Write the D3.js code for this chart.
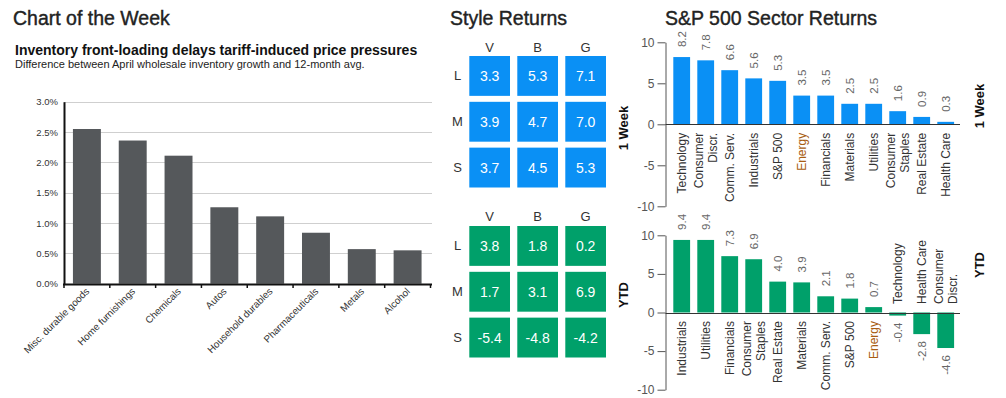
<!DOCTYPE html>
<html><head><meta charset="utf-8">
<script src="https://cdn.jsdelivr.net/npm/d3@7"></script>
<style>
body{margin:0;background:#fff;}
svg text{font-family:"Liberation Sans",Arial,sans-serif;}
</style>
</head><body>
<svg id="c" width="1006" height="398"></svg>
<script>
// ---------- data ----------
const invCategories = ["Misc. durable goods","Home furnishings","Chemicals","Autos","Household durables","Pharmaceuticals","Metals","Alcohol"];
const invValues = [0.0255,0.0236,0.0211,0.0126,0.0111,0.0084,0.0057,0.0055];
const invTicks = [0,0.005,0.01,0.015,0.02,0.025,0.03];

const styleCols = ["V","B","G"];
const styleRows = ["L","M","S"];
const style1W = [[3.3,5.3,7.1],[3.9,4.7,7.0],[3.7,4.5,5.3]];
const styleYTD = [[3.8,1.8,0.2],[1.7,3.1,6.9],[-5.4,-4.8,-4.2]];

const sec1WNames = ["Technology","Consumer\nDiscr.","Comm. Serv.","Industrials","S&P 500","Energy","Financials","Materials","Utilities","Consumer\nStaples","Real Estate","Health Care"];
const sec1WValues = [8.2,7.8,6.6,5.6,5.3,3.5,3.5,2.5,2.5,1.6,0.9,0.3];
const secYTDNames = ["Industrials","Utilities","Financials","Consumer\nStaples","Real Estate","Materials","Comm. Serv.","S&P 500","Energy","Technology","Health Care","Consumer\nDiscr."];
const secYTDValues = [9.4,9.4,7.3,6.9,4.0,3.9,2.1,1.8,0.7,-0.4,-2.8,-4.6];
const secTicks = [-10,-5,0,5,10];

// ---------- drawing ----------
const svg = d3.select("#c");
const FONT = '"Liberation Sans",Arial,sans-serif';

// Titles
[["Chart of the Week",13],["Style Returns",450],["S&P 500 Sector Returns",665]].forEach(([t,x])=>{
  svg.append("text").attr("x",x).attr("y",25).attr("font-size","19.5px").attr("fill","#222")
    .attr("stroke","#222").attr("stroke-width",0.4).text(t);
});

svg.append("text").attr("x",15).attr("y",55).attr("font-size","14px").attr("font-weight","bold").attr("fill","#111")
  .text("Inventory front-loading delays tariff-induced price pressures");
svg.append("text").attr("x",15).attr("y",68).attr("font-size","11px").attr("fill","#222")
  .text("Difference between April wholesale inventory growth and 12-month avg.");

// ---------- Left bar chart ----------
(function(){
  const x = d3.scaleBand().domain(invCategories).range([64,430.5]).paddingInner(0.39).paddingOuter(0.195);
  const y = d3.scaleLinear().domain([0,0.03]).range([283.7,101.7]);
  const g = svg.append("g");
  g.selectAll("line.grid").data(invTicks.filter(d=>d>0)).join("line")
    .attr("x1",64).attr("x2",432).attr("y1",d=>Math.round(y(d))+0.5).attr("y2",d=>Math.round(y(d))+0.5)
    .attr("stroke","#cfcfcf").attr("stroke-width",1);
  g.selectAll("rect").data(invValues).join("rect")
    .attr("x",(d,i)=>x(invCategories[i])).attr("width",x.bandwidth())
    .attr("y",d=>y(d)).attr("height",d=>y(0)-y(d)).attr("fill","#55585b");
  const ya = g.append("g").attr("transform","translate(64,0)")
    .call(d3.axisLeft(y).tickValues(invTicks).tickFormat(d3.format(".1%")).tickSize(0).tickPadding(6));
  ya.select(".domain").attr("stroke","#111").attr("stroke-width",2);
  ya.selectAll("text").attr("font-size","9.5px").attr("fill","#333").attr("font-family",FONT);
  g.append("line").attr("x1",63).attr("x2",432).attr("y1",284.5).attr("y2",284.5).attr("stroke","#111").attr("stroke-width",2);
  const step = x.step();
  g.selectAll("line.bt").data(d3.range(invCategories.length+1)).join("line")
    .attr("x1",i=>64+i*step).attr("x2",i=>64+i*step).attr("y1",284).attr("y2",288)
    .attr("stroke","#111").attr("stroke-width",1.5);
  g.selectAll("text.xl").data(invCategories).join("text")
    .attr("transform",d=>`translate(${x(d)+x.bandwidth()/2+3},${292}) rotate(-45)`)
    .attr("text-anchor","end").attr("font-size","9.8px").attr("fill","#333").text(d=>d);
})();

// ---------- Style grids ----------
function styleGrid(data, top, bottom, color, headerY, label, labelY){
  const x = d3.scaleBand().domain(styleCols).range([469.3,606]).paddingInner(0.152);
  const y = d3.scaleBand().domain(styleRows).range([top,bottom]).paddingInner(0.13);
  const g = svg.append("g");
  g.selectAll("text.h").data(styleCols).join("text")
    .attr("x",d=>x(d)+x.bandwidth()/2).attr("y",headerY).attr("dy","0.35em")
    .attr("text-anchor","middle").attr("font-size","13px").attr("fill","#333").text(d=>d);
  g.selectAll("text.r").data(styleRows).join("text")
    .attr("x",457.5).attr("y",d=>y(d)+y.bandwidth()/2).attr("dy","0.35em")
    .attr("text-anchor","middle").attr("font-size","13px").attr("fill","#333").text(d=>d);
  const cells = [];
  styleRows.forEach((r,i)=>styleCols.forEach((c,j)=>cells.push({r,c,v:data[i][j]})));
  g.selectAll("rect").data(cells).join("rect")
    .attr("x",d=>x(d.c)).attr("y",d=>y(d.r)).attr("width",x.bandwidth()).attr("height",y.bandwidth()).attr("fill",color);
  g.selectAll("text.v").data(cells).join("text")
    .attr("x",d=>x(d.c)+x.bandwidth()/2).attr("y",d=>y(d.r)+y.bandwidth()/2).attr("dy","0.36em")
    .attr("text-anchor","middle").attr("font-size","14px").attr("fill","#fff").text(d=>d.v.toFixed(1));
  g.append("text").attr("transform",`translate(628,${labelY}) rotate(-90)`).attr("text-anchor","middle")
    .attr("font-size","13px").attr("font-weight","bold").attr("fill","#111").text(label);
}
styleGrid(style1W, 56, 187.5, "#0a90f5", 47.5, "1 Week", 128);
styleGrid(styleYTD, 226, 357.5, "#00a06a", 216.5, "YTD", 295);

// ---------- Sector charts ----------
function sectorChart(names, values, y0, y1, color, label, labelY){
  const x = d3.scaleBand().domain(names).range([669.7,957.7]).paddingInner(0.3).paddingOuter(0.15);
  const y = d3.scaleLinear().domain([-10,10]).range([y1,y0]);
  const g = svg.append("g");
  const ax = g.append("g").attr("transform","translate(665.5,0)")
    .call(d3.axisLeft(y).tickValues(secTicks).tickFormat(d=>String(d)).tickSize(8).tickSizeOuter(0).tickPadding(3));
  ax.select(".domain").attr("stroke","#555");
  ax.selectAll(".tick line").attr("stroke","#555");
  ax.selectAll("text").attr("font-size","12px").attr("fill","#555").attr("font-family",FONT);
  const z = Math.round(y(0))+0.5;
  g.selectAll("rect").data(values).join("rect")
    .attr("x",(d,i)=>x(names[i])).attr("width",x.bandwidth())
    .attr("y",d=>y(Math.max(0,d))).attr("height",d=>Math.abs(y(d)-y(0))).attr("fill",color);
  g.append("line").attr("x1",665.5).attr("x2",960).attr("y1",z).attr("y2",z).attr("stroke","#333").attr("stroke-width",1);
  g.selectAll("text.v").data(values).join("text")
    .attr("transform",(d,i)=>{
      const cx = x(names[i])+x.bandwidth()/2;
      return d>=0 ? `translate(${cx},${y(d)-10}) rotate(-90)` : `translate(${cx},${y(d)+7}) rotate(-90)`;
    })
    .attr("text-anchor",d=>d>=0?"start":"end").attr("dy","0.35em")
    .attr("font-size","11.5px").attr("fill","#666").text(d=>d.toFixed(1));
  const cl = g.selectAll("text.c").data(names).join("text")
    .attr("transform",(d,i)=>{
      const cx = x(d)+x.bandwidth()/2;
      return values[i]>=0 ? `translate(${cx},${y(0)+8.5}) rotate(-90)` : `translate(${cx},${y(0)-8.5}) rotate(-90)`;
    })
    .attr("text-anchor",(d,i)=>values[i]>=0?"end":"start")
    .attr("font-size","12px").attr("fill",d=>d==="Energy"?"#a85d12":"#333");
  cl.each(function(d){
    const lines = d.split("\n");
    const t = d3.select(this);
    lines.forEach((ln,k)=>{
      t.append("tspan").attr("x",0).attr("y",(k-(lines.length-1)/2)*14.3).attr("dy","0.35em").text(ln);
    });
  });
  g.append("text").attr("transform",`translate(984,${labelY}) rotate(-90)`).attr("text-anchor","middle")
    .attr("font-size","13px").attr("font-weight","bold").attr("fill","#111").text(label);
}
sectorChart(sec1WNames, sec1WValues, 42.3, 206.3, "#0a90f5", "1 Week", 106);
sectorChart(secYTDNames, secYTDValues, 235.3, 389.7, "#00a06a", "YTD", 265);
</script>
</body></html>
